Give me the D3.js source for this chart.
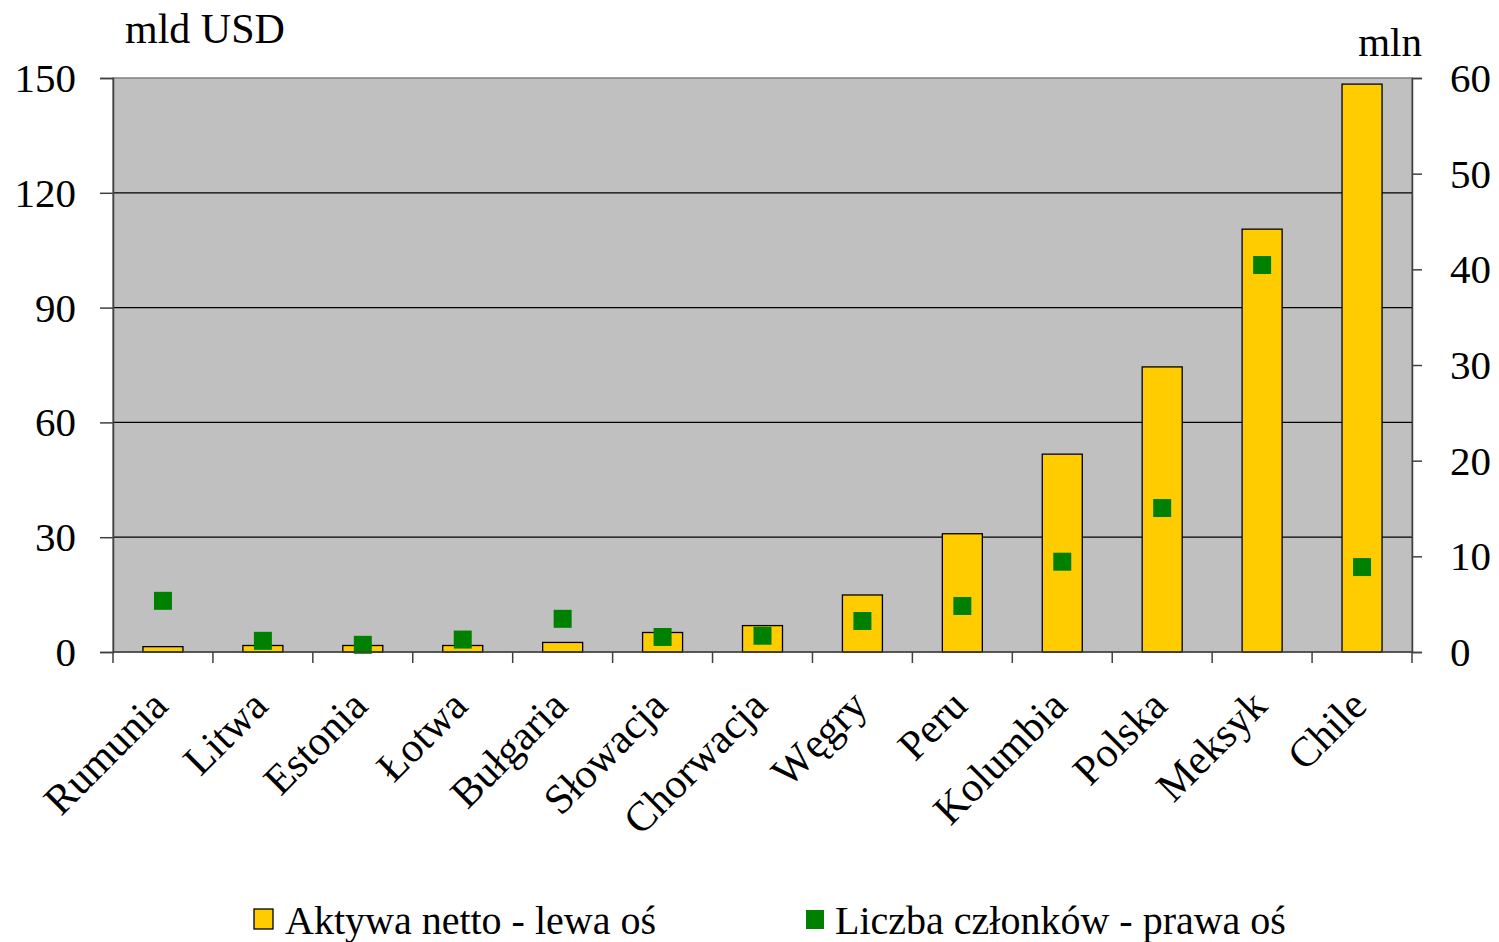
<!DOCTYPE html>
<html><head><meta charset="utf-8">
<script src="https://cdn.jsdelivr.net/npm/d3@7"></script>
<style>body{margin:0;background:#fff}svg{display:block}text{font-family:"Liberation Serif","Times New Roman",serif;fill:#000}</style>
</head><body>
<svg id="c" width="1499" height="942"></svg>
<script>
const categories = ["Rumunia","Litwa","Estonia","Łotwa","Bułgaria","Słowacja","Chorwacja","Węgry","Peru","Kolumbia","Polska","Meksyk","Chile"];
const netAssets = [1.4,1.7,1.7,1.7,2.5,5.1,6.9,14.9,30.9,51.7,74.5,110.5,148.4];
const members = [5.35,1.17,0.75,1.3,3.47,1.57,1.7,3.24,4.81,9.44,15.05,40.45,8.88];
const leftTicks = [0,30,60,90,120,150];
const rightTicks = [0,10,20,30,40,50,60];
const legendLabels = ["Aktywa netto - lewa oś","Liczba członków - prawa oś"];

const svg = d3.select("#c");
const L=113,R=1412,T=78,B=652;
const x = d3.scaleBand().domain(categories).range([L,R]).paddingInner(0).paddingOuter(0);
const yL = d3.scaleLinear().domain([0,150]).range([B,T]);
const yR = d3.scaleLinear().domain([0,60]).range([B,T]);

svg.append("rect").attr("x",L).attr("y",T).attr("width",R-L).attr("height",B-T).attr("fill","#c0c0c0").attr("stroke","#808080").attr("stroke-width",1.5);
svg.append("g").selectAll("line").data(leftTicks.filter(d=>d>0&&d<150)).join("line")
  .attr("x1",L).attr("x2",R).attr("y1",d=>yL(d)).attr("y2",d=>yL(d)).attr("stroke","#000").attr("stroke-width",1.2);

const bw=40;
svg.append("g").selectAll("rect").data(categories).join("rect")
  .attr("x",d=>x(d)+x.bandwidth()/2-bw/2).attr("width",bw)
  .attr("y",(d,i)=>yL(netAssets[i])).attr("height",(d,i)=>B-yL(netAssets[i]))
  .attr("fill","#ffcc00").attr("stroke","#000").attr("stroke-width",1.3);
const ms=18;
svg.append("g").selectAll("rect").data(categories).join("rect")
  .attr("x",d=>x(d)+x.bandwidth()/2-ms/2).attr("width",ms)
  .attr("y",(d,i)=>yR(members[i])-ms/2).attr("height",ms)
  .attr("fill","#008000");

const axL = d3.axisLeft(yL).tickValues(leftTicks).tickSize(13).tickPadding(24);
const gL = svg.append("g").attr("transform",`translate(${L},0)`).call(axL);
const axR = d3.axisRight(yR).tickValues(rightTicks).tickSize(10).tickPadding(28);
const gR = svg.append("g").attr("transform",`translate(${R},0)`).call(axR);
[gL,gR].forEach(g=>{
  g.select(".domain").attr("stroke","#404040").attr("stroke-width",1.5);
  g.selectAll(".tick line").attr("stroke","#404040").attr("stroke-width",1.5);
  g.selectAll(".tick text").attr("font-size",41).attr("font-family","Liberation Serif").attr("fill","#000").attr("dy","0.33em");
});

svg.append("line").attr("x1",L).attr("x2",R).attr("y1",B).attr("y2",B).attr("stroke","#404040").attr("stroke-width",1.5);
const bounds = categories.map(d=>x(d)).concat([R]);
svg.append("g").selectAll("line").data(bounds).join("line")
  .attr("x1",d=>d).attr("x2",d=>d).attr("y1",B).attr("y2",B+11).attr("stroke","#404040").attr("stroke-width",1.5);
svg.append("g").selectAll("text").data(categories).join("text")
  .attr("transform",d=>`translate(${x(d)+x.bandwidth()/2+7},708) rotate(-45)`)
  .attr("text-anchor","end").attr("font-size",42).text(d=>d);

svg.append("text").attr("x",125).attr("y",43).attr("font-size",42).text("mld USD");
svg.append("text").attr("x",1422).attr("y",56).attr("text-anchor","end").attr("font-size",41).text("mln");

const lg = svg.append("g");
lg.append("rect").attr("x",254).attr("y",909).attr("width",19).attr("height",20).attr("fill","#ffcc00").attr("stroke","#000").attr("stroke-width",1.3);
lg.append("text").attr("x",285).attr("y",934).attr("font-size",40).text(legendLabels[0]);
lg.append("rect").attr("x",806).attr("y",910).attr("width",18).attr("height",19).attr("fill","#008000");
lg.append("text").attr("x",835).attr("y",934).attr("font-size",40).text(legendLabels[1]);
</script>
</body></html>
